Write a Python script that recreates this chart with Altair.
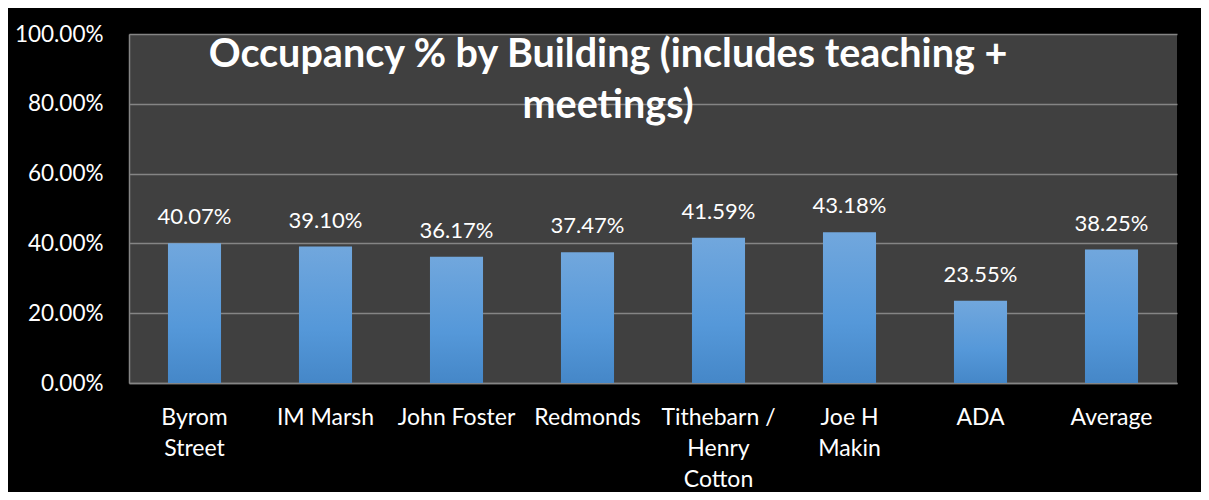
import altair as alt
import pandas as pd

categories = ["Byrom|Street", "IM Marsh", "John Foster", "Redmonds",
              "Tithebarn /|Henry|Cotton", "Joe H|Makin", "ADA", "Average"]
occupancy = [0.4007, 0.3910, 0.3617, 0.3747, 0.4159, 0.4318, 0.2355, 0.3825]
title_lines = ["Occupancy % by Building (includes teaching +", "meetings)"]

df = pd.DataFrame({"building": categories, "occupancy": occupancy})

FONT = "Lato"
PLOT_W, PLOT_H = 1048, 349

x_enc = alt.X("building:N", sort=categories,
              scale=alt.Scale(paddingInner=0.595, paddingOuter=0.2975),
              axis=alt.Axis(title=None, labelAngle=0, ticks=False,
                            labelExpr="split(datum.label, '|')",
                            labelColor="white", labelFont=FONT, labelFontSize=23,
                            labelBaseline="alphabetic", labelPadding=41,
                            labelLineHeight=31,
                            domainColor="#858585", domainWidth=1.5,
                            grid=False))
y_enc = alt.Y("occupancy:Q", scale=alt.Scale(domain=[0, 1], nice=False),
              axis=alt.Axis(title=None, format=".2%", values=[0, 0.2, 0.4, 0.6, 0.8, 1.0],
                            ticks=False, labelColor="white", labelFont=FONT,
                            labelFontSize=22.5, labelPadding=26,
                            domainColor="#858585", domainWidth=1.5,
                            grid=True, gridColor="#858585", gridWidth=1.5))

gradient = alt.Gradient(gradient="linear",
                        stops=[alt.GradientStop(color="#71a7dd", offset=0),
                               alt.GradientStop(color="#5598d9", offset=0.6),
                               alt.GradientStop(color="#4587c8", offset=1)],
                        x1=0, x2=0, y1=0, y2=1)

base = alt.Chart(df)

bars = base.mark_bar(color=gradient).encode(x=x_enc, y=y_enc)

labels = base.mark_text(color="white", font=FONT, fontSize=22,
                        baseline="alphabetic", dy=-19).encode(
    x=alt.X("building:N", sort=categories),
    y="occupancy:Q",
    text=alt.Text("occupancy:Q", format=".2%"))

title = alt.Chart(pd.DataFrame({"t": [0]})).mark_text(
    text=title_lines, color="white", font=FONT, fontSize=39.5, fontWeight="bold",
    baseline="alphabetic", align="center", lineHeight=51).encode(
    x=alt.value(479), y=alt.value(33))

chart = alt.layer(bars, labels, title).properties(
    width=PLOT_W, height=PLOT_H,
    background="black",
    padding={"left": 121, "top": 26, "right": 24, "bottom": 109},
    autosize=alt.AutoSizeParams(type="none"),
).configure_view(fill="#404040", stroke=None)

chart.save("out.html", embed_options={"renderer": "svg", "actions": False})
